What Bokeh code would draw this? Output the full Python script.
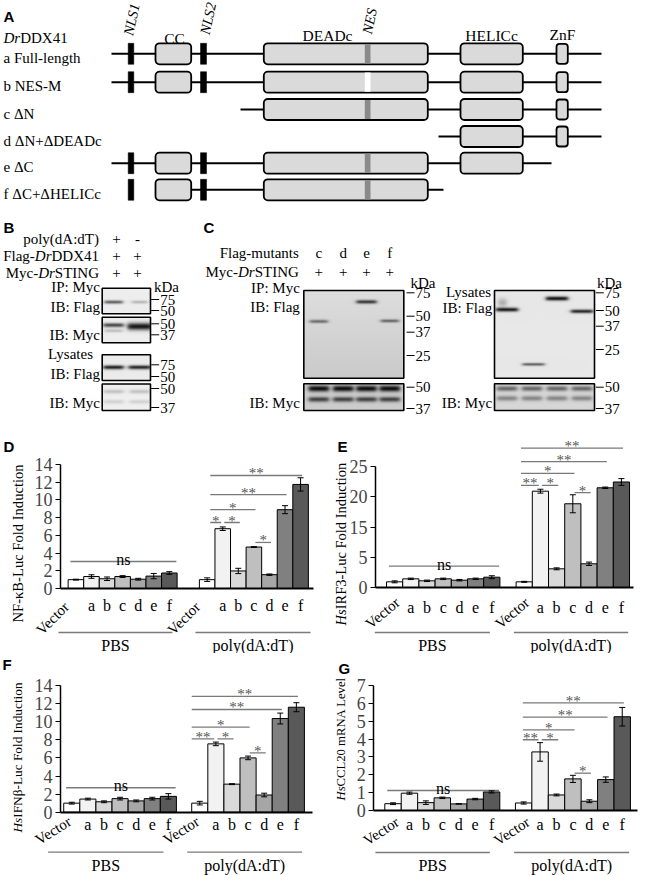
import numpy as np
from bokeh.plotting import figure
from bokeh.models import Range1d, FixedTicker, ColumnDataSource, Whisker, TeeHead, BoxAnnotation
from bokeh.layouts import column, row
from bokeh.embed import file_html
from bokeh.resources import INLINE
from bokeh.core.properties import value

SERIF = "Liberation Serif"
SANS = "Liberation Sans"

# ------------------------------------------------------------------ data
categories = ["Vector", "a", "b", "c", "d", "e", "f"]
treatments = ["PBS", "poly(dA:dT)"]
bar_colors = ["#ffffff", "#f2f2f2", "#d9d9d9", "#bfbfbf", "#a6a6a6", "#808080", "#595959"]

# D  NF-kB-Luc fold induction
nfkb_pbs = [1.0, 1.35, 1.1, 1.35, 1.05, 1.4, 1.75]
nfkb_pbs_err = [0.05, 0.2, 0.2, 0.1, 0.1, 0.3, 0.15]
nfkb_poly = [1.0, 6.75, 1.98, 4.68, 1.56, 8.9, 11.75]
nfkb_poly_err = [0.2, 0.2, 0.3, 0.05, 0.08, 0.45, 0.75]
nfkb_sig = [("Vector", "a", 7.45, "*"), ("a", "b", 7.45, "*"), ("Vector", "c", 8.9, "*"),
            ("c", "d", 5.2, "*"), ("Vector", "e", 10.6, "**"), ("Vector", "f", 12.76, "**")]
nfkb_ns = 3.05
nfkb_ticks = [0, 2, 4, 6, 8, 10, 12, 14]

# E  HsIRF3-Luc fold induction (tick labels as printed in the source figure)
irf3_pbs = [1.17, 1.79, 1.38, 1.79, 1.51, 1.79, 2.13]
irf3_pbs_err = [0.2, 0.15, 0.15, 0.15, 0.15, 0.15, 0.3]
irf3_poly = [1.17, 19.9, 3.86, 17.3, 4.9, 20.6, 21.8]
irf3_poly_err = [0.1, 0.4, 0.2, 1.86, 0.35, 0.15, 0.7]
irf3_sig = [("Vector", "a", 21.1, "**"), ("a", "b", 21.1, "*"), ("Vector", "c", 23.6, "*"),
            ("c", "d", 19.6, "*"), ("Vector", "e", 26.0, "**"), ("Vector", "f", 28.8, "**")]
irf3_ns = 4.4
irf3_ticks = [0, 6.25, 12.5, 18.75, 25]
irf3_tick_labels = ["0", "5", "15", "20", "25"]

# F  HsIFNb-Luc fold induction
ifnb_pbs = [1.0, 1.45, 1.15, 1.5, 1.25, 1.5, 1.75]
ifnb_pbs_err = [0.1, 0.1, 0.1, 0.15, 0.1, 0.15, 0.3]
ifnb_poly = [1.0, 7.55, 3.1, 6.0, 1.9, 10.35, 11.6]
ifnb_poly_err = [0.2, 0.2, 0.05, 0.2, 0.2, 0.6, 0.5]
ifnb_sig = [("Vector", "a", 8.1, "**"), ("a", "b", 8.1, "*"), ("Vector", "c", 9.4, "*"),
            ("c", "d", 6.56, "*"), ("Vector", "e", 11.35, "**"), ("Vector", "f", 12.8, "**")]
ifnb_ns = 2.7
ifnb_ticks = [0, 2, 4, 6, 8, 10, 12, 14]

# G  HsCCL20 mRNA level
ccl20_pbs = [0.38, 0.97, 0.44, 0.71, 0.37, 0.64, 1.04]
ccl20_pbs_err = [0.05, 0.06, 0.1, 0.04, 0.01, 0.04, 0.06]
ccl20_poly = [0.42, 3.28, 0.87, 1.77, 0.52, 1.73, 5.25]
ccl20_poly_err = [0.06, 0.52, 0.05, 0.2, 0.08, 0.15, 0.52]
ccl20_sig = [("Vector", "a", 3.96, "**"), ("a", "b", 3.96, "*"), ("Vector", "c", 4.51, "*"),
             ("c", "d", 2.09, "*"), ("Vector", "e", 5.23, "**"), ("Vector", "f", 6.03, "**")]
ccl20_ns = 1.12
ccl20_ticks = [0, 1, 2, 3, 4, 5, 6, 7]

# Schematic (A): constructs and domain spans along the drawn protein axis
construct_labels = ["a Full-length", "b NES-M", "c \u0394N", "d \u0394N+\u0394DEADc", "e \u0394C", "f \u0394C+\u0394HELICc"]
construct_extent = [(111, 601), (111, 601), (240, 601), (438, 601), (111, 551), (168, 443)]
construct_domains = [["NLS1", "CC", "NLS2", "DEADc", "HELICc", "ZnF"],
                     ["NLS1", "CC", "NLS2", "DEADc", "HELICc", "ZnF"],
                     ["DEADc", "HELICc", "ZnF"],
                     ["HELICc", "ZnF"],
                     ["NLS1", "CC", "NLS2", "DEADc", "HELICc"],
                     ["NLS1", "CC", "NLS2", "DEADc"]]
nes_mutated = [False, True, False, False, False, False]
domain_span = {"NLS1": (127.7, 133.3), "CC": (155, 190.7), "NLS2": (200, 206),
               "DEADc": (263.3, 427.3), "NES": (364.3, 370), "HELICc": (460, 522.3),
               "ZnF": (556, 567.3)}

# ------------------------------------------------------------------ text metrics (Times)
TW = {' ': 250, '(': 333, ')': 333, '+': 564, '-': 333, ':': 278, '.': 250,
      'A': 722, 'B': 667, 'C': 667, 'D': 722, 'E': 611, 'F': 556, 'G': 722, 'H': 722, 'I': 333,
      'K': 722, 'L': 611, 'M': 889, 'N': 722, 'P': 556, 'R': 667, 'S': 556, 'T': 611, 'X': 722,
      'a': 444, 'b': 500, 'c': 444, 'd': 500, 'e': 444, 'f': 333, 'g': 500, 'h': 500, 'i': 278,
      'k': 500, 'l': 278, 'm': 778, 'n': 500, 'o': 500, 'p': 500, 'r': 333, 's': 389, 't': 278,
      'u': 500, 'v': 500, 'y': 500, '\u03ba': 540, '\u03b2': 500, '\u0394': 612}
TWI = {'H': 722, 's': 389, 'D': 722, 'r': 389}


def tw(s, size, italic=False):
    tab = TWI if italic else TW
    return sum(tab.get(ch, TW.get(ch, 500)) for ch in s) / 1000.0 * size


def put_text(p, x, y, s, size=15.0, align="left", baseline="alphabetic", style="normal",
             font=SERIF, angle=0.0, color="black"):
    p.text(x=[x], y=[y], text=[s], text_font=value(font), text_font_size=f"{size}px",
           text_align=align, text_baseline=baseline, text_font_style=style, angle=angle,
           text_color=color)


def no_borders(p):
    p.min_border_left = 0
    p.min_border_right = 0
    p.min_border_top = 0
    p.min_border_bottom = 0


PAGE_W = 649
TOP_H = 437

# ------------------------------------------------------------------ top canvas (A, B, C)
top = figure(width=PAGE_W, height=TOP_H, x_range=Range1d(0, PAGE_W), y_range=Range1d(-TOP_H, 0),
             output_backend="svg", toolbar_location=None, x_axis_type=None, y_axis_type=None,
             min_border=0, outline_line_color=None)
no_borders(top)


def T(x, y, s, size=15.0, align="left", baseline="alphabetic", style="normal", font=SERIF,
      angle=0.0, color="black"):
    put_text(top, x, -y, s, size, align, baseline, style, font, angle, color)


def rich(x, y, parts, size=15.0, align="left"):
    widths = [tw(s, size, it) for s, it in parts]
    start = x - sum(widths) if align == "right" else x
    for (s, it), w in zip(parts, widths):
        T(start, y, s, size, "left", style="italic" if it else "normal")
        start += w


# panel letters
T(3, 15.5, "A", 15, font=SANS, style="bold")
T(3, 226.7, "B", 15, font=SANS, style="bold")
T(203, 226.7, "C", 15, font=SANS, style="bold")

# ---- A: schematic
row_y = [53.3, 81.7, 109, 136, 162.7, 189.3]
rich(3, 37, [("Dr", True), ("DDX41", False)], 15)
for lab, y in zip(construct_labels, row_y):
    T(3, y + 4, lab, 15)

T(131, 19, "NLS1", 14.5, align="center", baseline="middle", style="italic", angle=np.deg2rad(78))
T(207.5, 18, "NLS2", 14.5, align="center", baseline="middle", style="italic", angle=np.deg2rad(78))
T(369, 20.5, "NES", 14.5, align="center", baseline="middle", style="italic", angle=np.deg2rad(78))
T(174, 38, "CC", 15.5, align="center")
T(327, 35, "DEADc", 15.5, align="center")
T(491, 35, "HELICc", 15.5, align="center")
T(562, 33.5, "ZnF", 15.5, align="center")

for r, y in enumerate(row_y):
    xa, xb = construct_extent[r]
    top.segment(x0=[xa], y0=[-y], x1=[xb], y1=[-y], line_color="black", line_width=2)
    for d in construct_domains[r]:
        a, b = domain_span[d]
        if d.startswith("NLS"):
            top.quad(left=[a], right=[b], top=[-(y - 10.5)], bottom=[-(y + 10.5)],
                     fill_color="black", line_color="black", line_width=0.5)
        else:
            hh = 10.0 if d == "ZnF" else 10.5
            top.add_layout(BoxAnnotation(left=a, right=b, top=-(y - hh), bottom=-(y + hh),
                                         fill_color="#dadada", fill_alpha=1.0, line_color="black",
                                         line_alpha=1.0, line_width=1.8,
                                         border_radius=3 if d == "ZnF" else 4))
        if d == "DEADc":
            a2, b2 = domain_span["NES"]
            top.add_layout(BoxAnnotation(left=a2, right=b2, top=-(y - 9.6), bottom=-(y + 9.6),
                                         fill_color="#ffffff" if nes_mutated[r] else "#8a8a8a",
                                         fill_alpha=1.0, line_color=None))


# ---- blots
def blot(left, top_, right, bottom, bg, bands, grad=0.0):
    w = int(round(right - left))
    h = int(round(bottom - top_))
    yy, xx = np.mgrid[0:h, 0:w] + 0.5
    img = bg - grad * yy / h
    for (cx, cy, bw, bh, dark) in bands:
        fx = 1.0 / (1.0 + np.exp((np.abs(xx - (cx - left)) - bw / 2.0) / 1.2))
        fy = np.exp(-((yy - (cy - top_)) / bh) ** 2)
        img = img - dark * fx * fy
    v = np.clip(img, 0, 255).astype(np.uint32)
    rgba = (np.uint32(255) << 24) | (v << 16) | (v << 8) | v
    rgba = np.ascontiguousarray(np.flipud(rgba)).astype(np.uint32)
    top.image_rgba(image=[rgba], x=left, y=-bottom, dw=right - left, dh=bottom - top_)
    top.quad(left=[left], right=[right], top=[-top_], bottom=[-bottom], fill_color=None,
             line_color="black", line_width=1.6)


def markers(x0, items):
    for lab, y in items:
        top.segment(x0=[x0], y0=[-y], x1=[x0 + 8], y1=[-y], line_color="black", line_width=1)
        T(x0 + 9, y, lab, 15, baseline="middle")


# B
bt = [116, 137]
rich(98.5, 238.3, [("poly(dA:dT)", False)], align="right")
rich(98.5, 255.5, [("Flag-", False), ("Dr", True), ("DDX41", False)], align="right")
rich(98.5, 272, [("Myc-", False), ("Dr", True), ("STING", False)], align="right")
for x, s in zip(bt, ["+", "-"]):
    T(x, 238.3, s, 15, align="center")
for x in bt:
    T(x, 255.5, "+", 15, align="center")
    T(x, 272, "+", 15, align="center")
T(99.5, 286.7, "IP: Myc", align="right")
T(166, 286.7, "kDa", 15, align="center")
T(99.5, 306.7, "IB: Flag", align="right")
T(99.5, 334.3, "IB: Myc", align="right")
T(70, 353.3, "Lysates", align="center")
T(99.5, 373.3, "IB: Flag", align="right")
T(99.5, 402, "IB: Myc", align="right")

blot(101.7, 287.7, 150, 313.3, 238, [(113, 302.3, 18, 1.6, 150), (139, 302.3, 16, 1.4, 60)])
blot(101.7, 316.7, 150, 342.3, 238, [(113, 325.5, 20, 2.0, 170), (113, 331, 18, 1.5, 50),
                                     (139, 326.8, 24, 3.5, 215)])
blot(101.7, 354.3, 150, 380, 236, [(113, 367.5, 20, 2.0, 200), (139, 367.5, 22, 2.0, 195)])
blot(101.7, 383.5, 150, 410, 240, [(113, 391, 20, 2.0, 45), (139, 391, 20, 2.0, 45),
                                   (113, 401, 20, 2.0, 30), (139, 401, 20, 2.0, 30)])
markers(150.7, [("75", 299), ("50", 310)])
markers(150.7, [("50", 323.3), ("37", 334.3)])
markers(150.7, [("75", 364.3), ("50", 376)])
markers(150.7, [("50", 388), ("37", 407)])

# C
cl = [318.3, 342.7, 366, 389.3]
T(298.3, 252.3, "Flag-mutants", align="right")
for x, s in zip(cl, ["c", "d", "e", "f"]):
    T(x, 252.3, s, 15, align="center")
    T(x, 271.7, "+", 15, align="center")
rich(298.3, 271.7, [("Myc-", False), ("Dr", True), ("STING", False)], align="right")
T(299.3, 287.7, "IP: Myc", align="right")
T(299.3, 306.7, "IB: Flag", align="right")
T(299.3, 402, "IB: Myc", align="right")
T(422.5, 282.3, "kDa", 15, align="center")
T(468, 291, "Lysates", align="center")
T(491.7, 307.3, "IB: Flag", align="right")
T(491.7, 402, "IB: Myc", align="right")
T(609, 282.3, "kDa", 15, align="center")

blot(303.3, 290, 403.3, 377.7, 222, [(318.3, 321.7, 18, 1.6, 110), (366, 302.3, 20, 1.8, 170),
                                     (389.3, 321.2, 18, 1.5, 120)], grad=20)
blot(303.3, 383.3, 403.3, 410, 205, [b for cx in cl for b in ((cx, 389, 20, 3.0, 190),
                                                             (cx, 399.5, 20, 2.5, 140))])
rl = [506.5, 531.5, 556.5, 581.5]
blot(494, 290, 594, 377.7, 232, [(506.5, 310, 22, 2.0, 210), (502, 303, 8, 4, 60),
                                 (533, 364.3, 22, 1.5, 130), (556.5, 299, 22, 2.0, 220),
                                 (581.5, 311.7, 22, 1.8, 200)])
blot(494, 383.3, 594, 410, 215, [b for cx in rl for b in ((cx, 389, 20, 2.5, 110),
                                                         (cx, 398.5, 20, 2.5, 80))])
markers(406, [("75", 292.3), ("50", 315.7), ("37", 331.7), ("25", 355)])
markers(406, [("50", 386.7), ("37", 408)])
markers(595.3, [("75", 292.3), ("50", 310), ("37", 325.7), ("25", 349)])
markers(595.3, [("50", 386.7), ("37", 408)])


# ------------------------------------------------------------------ bar panels
def bar_panel(cfg, pbs, pbs_err, poly, poly_err, sig, ns_level, ticks, tick_labels=None):
    W, H, fl, fr, fb = cfg["W"], cfg["H"], cfg["fl"], cfg["fr"], cfg["fb"]
    ppx, ppy, x0 = cfg["ppx"], cfg["ppy"], cfg["x0"]

    def dx(lx):
        return x0 + (lx - fl) / ppx

    def dy(ly):
        return (fb - ly) / ppy

    p = figure(width=W, height=H, x_range=Range1d(dx(0), dx(W)), y_range=Range1d(dy(H), dy(0)),
               output_backend="svg", toolbar_location=None, min_border=0,
               outline_line_color=None)
    no_borders(p)
    p.grid.visible = False

    starts = [0.0, cfg["g2"]]
    centers = {(g, k): starts[g] + k + 0.5 for g in range(2) for k in range(7)}
    xs = [centers[(g, k)] for g in range(2) for k in range(7)]
    vals = list(pbs) + list(poly)
    errs = list(pbs_err) + list(poly_err)
    src = ColumnDataSource(dict(x=xs, top=vals, color=bar_colors * 2,
                                upper=[v + e for v, e in zip(vals, errs)],
                                lower=[v - e for v, e in zip(vals, errs)]))
    p.vbar(x="x", top="top", width=1.0, bottom=0, fill_color="color", line_color="black",
           line_width=1, source=src)
    wh = Whisker(source=src, base="x", upper="upper", lower="lower", line_color="black",
                 line_width=1, level="annotation",
                 upper_head=TeeHead(size=6, line_color="black", line_width=1),
                 lower_head=TeeHead(size=6, line_color="black", line_width=1))
    p.add_layout(wh)

    yax = p.yaxis[0]
    yax.fixed_location = x0
    yax.ticker = FixedTicker(ticks=ticks)
    yax.bounds = (0, ticks[-1])
    yax.axis_line_width = 1.5
    yax.major_tick_in = 0
    yax.major_tick_out = 5
    yax.minor_tick_line_color = None
    yax.major_label_text_font = SERIF
    yax.major_label_text_font_size = "18px"
    yax.major_label_standoff = 3
    if tick_labels is not None:
        yax.major_label_overrides = {t: s for t, s in zip(ticks, tick_labels)}
    xax = p.xaxis[0]
    xax.fixed_location = 0
    xax.bounds = (x0, dx(fr))
    xax.ticker = FixedTicker(ticks=[])
    xax.axis_line_width = 2
    xax.major_tick_line_color = None
    xax.minor_tick_line_color = None
    xax.major_tick_out = 0
    xax.minor_tick_out = 0
    xax.major_label_standoff = 0
    xax.major_label_text_font_size = "0px"

    # significance
    idx = {c: i for i, c in enumerate(categories)}
    sx0, sx1, sy, smx, smy, smt = [], [], [], [], [], []
    for a, b, lev, mark in sig:
        i, j = idx[a], idx[b]
        xa = centers[(1, i)] + (cfg["s0"] if i == 0 else 0.1)
        xb = centers[(1, j)] + (-0.1 if (i == 0 and j == 1) else 0.1)
        sx0.append(xa); sx1.append(xb); sy.append(lev)
        smx.append((xa + xb) / 2); smy.append(lev + 2.0 / ppy); smt.append(mark)
    p.segment(x0=sx0, y0=sy, x1=sx1, y1=sy, line_color="#7a7a7a", line_width=1.3)
    p.text(x=smx, y=smy, text=smt, text_font=value(SERIF), text_font_size="15px",
           text_align="center", text_baseline="middle", text_color="#555555")
    p.segment(x0=[0.15], y0=[ns_level], x1=[6.95], y1=[ns_level], line_color="#7a7a7a",
              line_width=1.3)
    put_text(p, 3.55, ns_level + 2.0 / ppy, "ns", 16, align="center")

    # category labels below the axis
    for g in range(2):
        for k, c in enumerate(categories):
            if k == 0:
                put_text(p, centers[(g, k)] + cfg["vec_dx"] / ppx, -cfg["vec_dy"] / ppy, c, 15,
                         align="right", baseline="middle", angle=np.deg2rad(cfg["vec_angle"]))
            else:
                put_text(p, centers[(g, k)], -cfg["cat_dy"] / ppy, c, 16, align="center",
                         baseline="middle")
        ga, gb = cfg["glines"][g]
        p.segment(x0=[ga], y0=[-cfg["line_dy"] / ppy], x1=[gb], y1=[-cfg["line_dy"] / ppy],
                  line_color="#7a7a7a", line_width=1.3)
        put_text(p, (ga + gb) / 2, -cfg["glabel_dy"] / ppy, treatments[g], 16, align="center",
                 baseline="middle")

    # panel letter
    let, lx, ly = cfg["letter"]
    put_text(p, dx(lx), dy(ly), let, 15, font=SANS, style="bold", baseline="top")

    # y-axis title (rotated, with italic species prefix)
    parts = cfg["title"]
    em = sum(tw(s, 1.0, it) for s, it in parts)
    fs = cfg["title_len"] / em
    pos = cfg["title_bottom"]
    for s, it in parts:
        put_text(p, dx(cfg["title_x"]), dy(pos), s, round(fs, 1),
                 style="italic" if it else "normal", align="left", baseline="middle",
                 angle=np.pi / 2)
        pos -= tw(s, fs, it)
    return p


# row 1: local y = y - 437 ; row 2: local y = y - 653 ; right column: local x = x - 321
cfgD = dict(W=321, H=216, fl=60, fr=313.3, fb=151, ppx=15.57, x0=-0.49, ppy=8.857, g2=8.43,
            letter=("D", 3, 0.5), title=[("NF-\u03baB-Luc Fold Induction", False)],
            title_x=17, title_bottom=185, title_len=159,
            cat_dy=17, vec_dx=-9.5, vec_dy=16, vec_angle=45, s0=0.2,
            line_dy=44, glabel_dy=57, glines=[(-0.62, 6.7), (8.18, 15.57)])
cfgE = dict(W=328, H=216, fl=54, fr=312.3, fb=150, ppx=16.2, x0=-0.68, ppy=4.84, g2=8.0,
            letter=("E", 16, 0.5), title=[("Hs", True), ("IRF3-Luc Fold Induction", False)],
            title_x=19, title_bottom=188, title_len=163,
            cat_dy=20, vec_dx=3, vec_dy=13, vec_angle=40, s0=-0.2,
            line_dy=45, glabel_dy=58, glines=[(-0.72, 6.38), (7.86, 14.92)])
cfgF = dict(W=321, H=222, fl=60, fr=311.7, fb=158.7, ppx=16.1, x0=-0.2, ppy=9.05, g2=7.95,
            letter=("F", 2, 2.7), title=[("Hs", True), ("IFN\u03b2-Luc Fold Induction", False)],
            title_x=16.7, title_bottom=179, title_len=150,
            cat_dy=12.5, vec_dx=-2, vec_dy=8, vec_angle=32, s0=-0.5,
            line_dy=40, glabel_dy=53, glines=[(-0.97, 6.2), (7.67, 14.81)])
cfgG = dict(W=328, H=222, fl=52.3, fr=315.7, fb=157, ppx=16.43, x0=-0.67, ppy=17.86, g2=7.95,
            letter=("G", 17, 6), title=[("Hs", True), ("CCL20 mRNA Level", False)],
            title_x=19, title_bottom=147, title_len=123,
            cat_dy=14, vec_dx=4.5, vec_dy=10, vec_angle=33, s0=-0.05,
            line_dy=42, glabel_dy=55, glines=[(-0.57, 6.39), (7.87, 14.87)])

pD = bar_panel(cfgD, nfkb_pbs, nfkb_pbs_err, nfkb_poly, nfkb_poly_err, nfkb_sig, nfkb_ns, nfkb_ticks)
pE = bar_panel(cfgE, irf3_pbs, irf3_pbs_err, irf3_poly, irf3_poly_err, irf3_sig, irf3_ns,
               irf3_ticks, irf3_tick_labels)
pF = bar_panel(cfgF, ifnb_pbs, ifnb_pbs_err, ifnb_poly, ifnb_poly_err, ifnb_sig, ifnb_ns, ifnb_ticks)
pG = bar_panel(cfgG, ccl20_pbs, ccl20_pbs_err, ccl20_poly, ccl20_poly_err, ccl20_sig, ccl20_ns,
               ccl20_ticks)

layout = column(top, row(pD, pE, spacing=0), row(pF, pG, spacing=0), spacing=0)
open("out.html", "w").write(file_html(layout, INLINE))
